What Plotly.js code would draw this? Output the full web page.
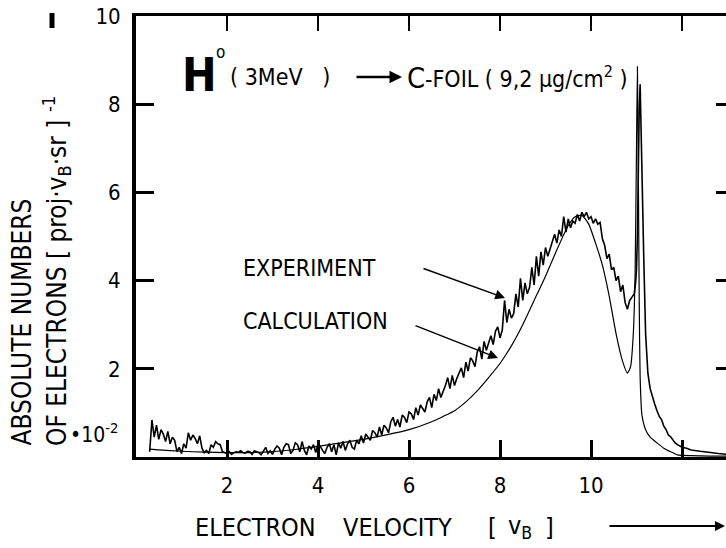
<!DOCTYPE html>
<html>
<head>
<meta charset="utf-8">
<script src="https://cdn.plot.ly/plotly-3.0.1.min.js"></script>
<style>html,body{margin:0;padding:0;background:#fff;overflow:hidden}#chart{width:726px;height:548px}</style>
</head>
<body>
<div id="chart"></div>
<script>
// ---- data ----
const expX = [0.30,0.35,0.40,0.45,0.50,0.55,0.60,0.65,0.70,0.75,0.80,0.85,0.90,0.95,1.00,1.05,1.10,1.15,1.20,1.25,1.30,1.35,1.40,1.45,1.50,1.55,1.60,1.65,1.70,1.75,1.80,1.85,1.90,1.95,2.00,2.05,2.10,2.15,2.20,2.25,2.30,2.35,2.40,2.45,2.50,2.55,2.60,2.65,2.70,2.75,2.80,2.85,2.90,2.95,3.00,3.05,3.10,3.15,3.20,3.25,3.30,3.35,3.40,3.45,3.50,3.55,3.60,3.65,3.70,3.75,3.80,3.85,3.90,3.95,4.00,4.05,4.10,4.15,4.20,4.25,4.30,4.35,4.40,4.45,4.50,4.55,4.60,4.65,4.70,4.75,4.80,4.85,4.90,4.95,5.00,5.05,5.10,5.15,5.20,5.25,5.30,5.35,5.40,5.45,5.50,5.55,5.60,5.65,5.70,5.75,5.80,5.85,5.90,5.95,6.00,6.05,6.10,6.15,6.20,6.25,6.30,6.35,6.40,6.45,6.50,6.55,6.60,6.65,6.70,6.75,6.80,6.85,6.90,6.95,7.00,7.05,7.10,7.15,7.20,7.25,7.30,7.35,7.40,7.45,7.50,7.55,7.60,7.65,7.70,7.75,7.80,7.85,7.90,7.95,8.00,8.05,8.10,8.15,8.20,8.25,8.30,8.35,8.40,8.45,8.50,8.55,8.60,8.65,8.70,8.75,8.80,8.85,8.90,8.95,9.00,9.05,9.10,9.15,9.20,9.25,9.30,9.35,9.40,9.45,9.50,9.55,9.60,9.65,9.70,9.75,9.80,9.85,9.90,9.95,10.00,10.05,10.10,10.15,10.20,10.25,10.30,10.35,10.40,10.45,10.50,10.55,10.60,10.65,10.70,10.75,10.80,10.85,10.90,10.95,10.98,11.00,11.02,11.04,11.06,11.08,11.12,11.16,11.20,11.25,11.30,11.35,11.40,11.45,11.50,11.55,11.60,11.65,11.70,11.75,11.80,11.85,11.90,12.00,12.10,12.20,12.40,12.60,12.80,13.00];
const expY = [0.12,0.84,0.45,0.72,0.40,0.62,0.52,0.35,0.58,0.30,0.45,0.38,0.12,0.22,0.08,0.30,0.20,0.55,0.38,0.50,0.42,0.30,0.48,0.20,0.10,0.15,0.08,0.28,0.22,0.35,0.30,0.28,0.12,0.10,0.08,0.12,0.06,0.10,0.12,0.11,0.14,0.10,0.09,0.13,0.12,0.06,0.14,0.12,0.10,0.05,0.15,0.22,0.08,0.14,0.06,0.18,0.25,0.20,0.05,0.22,0.30,0.28,0.08,0.15,0.32,0.28,0.12,0.35,0.15,0.05,0.25,0.18,0.28,0.10,0.30,0.24,0.15,0.08,0.22,0.30,0.12,0.28,0.05,0.32,0.20,0.35,0.15,0.30,0.38,0.22,0.18,0.38,0.30,0.48,0.32,0.52,0.45,0.38,0.60,0.55,0.45,0.68,0.50,0.72,0.66,0.55,0.80,0.90,0.70,0.85,0.68,0.95,0.90,0.78,1.02,0.98,0.85,1.12,0.95,1.18,1.10,1.02,1.25,1.35,1.12,1.42,1.28,1.55,1.35,1.48,1.62,1.80,1.55,1.85,1.62,1.78,1.90,2.02,1.80,2.15,1.95,2.25,2.18,2.05,2.38,2.50,2.22,2.62,2.42,2.58,2.75,2.55,2.85,2.95,2.70,2.88,3.55,3.05,3.35,3.15,3.25,3.70,3.40,4.05,3.55,3.95,3.70,3.85,4.30,3.90,4.55,4.10,4.65,4.35,4.75,4.55,4.70,4.90,5.05,4.85,5.15,5.00,5.45,5.10,5.40,5.20,5.35,5.30,5.50,5.35,5.55,5.45,5.55,5.40,5.45,5.30,5.40,5.28,5.32,4.95,4.80,4.50,4.60,4.25,4.30,4.00,4.10,3.75,3.90,3.50,3.35,3.55,3.62,3.70,3.95,4.25,5.00,6.80,7.90,8.45,6.80,4.50,2.80,1.90,1.55,1.35,1.20,1.05,0.92,0.85,0.70,0.62,0.50,0.46,0.38,0.32,0.28,0.22,0.20,0.16,0.13,0.10,0.08,0.06,0.05,0.04,0.03];

const calcX = [0.3,0.5,1.0,1.5,2.0,2.5,3.0,3.5,4.0,4.5,5.0,5.5,6.0,6.5,6.75,7.0,7.25,7.5,7.75,8.0,8.25,8.5,8.75,9.0,9.25,9.5,9.65,9.8,9.95,10.1,10.25,10.4,10.55,10.7,10.8,10.87,10.93,10.97,11.0,11.02,11.04,11.06,11.08,11.12,11.2,11.3,11.45,11.6,11.75,11.9,12.2,12.6,13.0];
const calcY = [0.18,0.16,0.13,0.11,0.10,0.10,0.12,0.17,0.24,0.32,0.40,0.50,0.62,0.80,0.92,1.05,1.25,1.50,1.80,2.12,2.52,3.00,3.55,4.10,4.70,5.25,5.45,5.48,5.28,4.85,4.35,3.65,2.80,2.15,1.90,2.05,2.80,4.20,7.00,8.85,6.50,3.50,1.80,0.95,0.62,0.45,0.32,0.20,0.12,0.05,0.03,0.02,0.02];

const xTicks = [2,4,6,8,10,12];
const xTickText = ['2','4','6','8','10',''];
const yTicks = [2,4,6,8,10];
const yTickText = ['2','4','6','8','10'];

// ---- pixel helpers for text placement (plot area 136..726 x 16..457) ----
const px = p => (p-136)/590;
const py = p => (457-p)/441;
const FONT = "'DejaVu Sans Condensed','Liberation Sans Narrow','DejaVu Sans',sans-serif";
const txt = (s, c) => ({family: FONT, size: s, color: c || '#000'});
const P = {xref: 'paper', yref: 'paper', showarrow: false};
const T = (x, y, text, size, xa, extra) => Object.assign({x: px(x), y: py(y), text: text, xanchor: xa || 'left', yanchor: 'middle', font: txt(size)}, P, extra || {});
const A = (hx, hy, tx, ty, w, s) => ({xref: 'paper', yref: 'paper', axref: 'pixel', ayref: 'pixel', x: px(hx), y: py(hy), ax: tx-hx, ay: ty-hy, text: '', showarrow: true, arrowhead: 2, arrowsize: s, arrowwidth: w, arrowcolor: '#000'});

const traces = [
  {x: expX, y: expY, type: 'scatter', mode: 'lines', line: {color: '#000', width: 1.6}, hoverinfo: 'skip', showlegend: false},
  {x: calcX, y: calcY, type: 'scatter', mode: 'lines', line: {color: '#000', width: 1.2, shape: 'spline', smoothing: 0.5}, hoverinfo: 'skip', showlegend: false},
  {x: [], y: [], xaxis: 'x2', yaxis: 'y2', type: 'scatter', hoverinfo: 'skip', showlegend: false}
];

const annotations = [
  T(180, 75, '<b>H</b>', 46),
  T(220, 52, 'o', 17, 'center'),
  T(228, 77, '( 3MeV   )', 23),
  A(402, 77, 355, 77, 2.5, 1),
  T(405, 78, 'C', 29),
  T(423, 77, '-FOIL ( 9,2 μg/cm<sup>2</sup> )', 23),
  T(241, 268, 'EXPERIMENT', 23),
  T(241, 321, 'CALCULATION', 23),
  A(505, 298, 422, 268, 1.5, 1.3),
  A(498, 358, 414, 325, 1.5, 1.3),
  T(120, 433, '•10<sup>-2</sup>', 21, 'right'),
  T(193, 527, 'ELECTRON', 25),
  T(341, 527, 'VELOCITY', 25),
  T(486, 527, '[', 25),
  T(506, 527, 'v<sub>B</sub>', 25),
  T(543, 527, ']', 25),
  A(725, 526, 608, 526, 2, 1),
  Object.assign({x: px(21), y: py(448), text: 'ABSOLUTE NUMBERS', textangle: -90, xanchor: 'center', yanchor: 'bottom', font: txt(26)}, P),
  Object.assign({x: px(56), y: py(448), text: 'OF ELECTRONS [ proj·v<sub>B</sub>·sr ] <sup>-1</sup>', textangle: -90, xanchor: 'center', yanchor: 'bottom', font: txt(26)}, P)
];

const shapes = [
  {type: 'line', xref: 'paper', yref: 'paper', x0: px(52), x1: px(52), y0: py(28), y1: py(13), line: {color: '#000', width: 5}}
];

const axisCommon = {showgrid: false, zeroline: false, showline: true, linecolor: '#000', ticks: 'inside', tickcolor: '#000', fixedrange: true};

const layout = {
  width: 726, height: 548,
  margin: {l: 136, r: 0, t: 16, b: 91, pad: 0},
  paper_bgcolor: '#fff', plot_bgcolor: '#fff',
  showlegend: false,
  xaxis: Object.assign({}, axisCommon, {range: [0, 590/45.5], linewidth: 3, tickwidth: 3, ticklen: 17, tickvals: xTicks, ticktext: xTickText, tickfont: txt(22), ticklabelstandoff: 7}),
  yaxis: Object.assign({}, axisCommon, {range: [0, 441/44.1], linewidth: 4, tickwidth: 3, ticklen: 18, tickvals: yTicks, ticktext: yTickText, tickfont: txt(22), ticklabelstandoff: 7}),
  xaxis2: Object.assign({}, axisCommon, {overlaying: 'x', side: 'top', matches: 'x', linewidth: 3, tickwidth: 2, ticklen: 15, tickvals: xTicks, showticklabels: false}),
  yaxis2: Object.assign({}, axisCommon, {overlaying: 'y', side: 'right', matches: 'y', showline: false, tickwidth: 3, ticklen: 10, tickvals: [2,4,6,8], showticklabels: false}),
  annotations: annotations,
  shapes: shapes
};

Plotly.newPlot('chart', traces, layout, {staticPlot: true, displayModeBar: false});
</script>
</body>
</html>
